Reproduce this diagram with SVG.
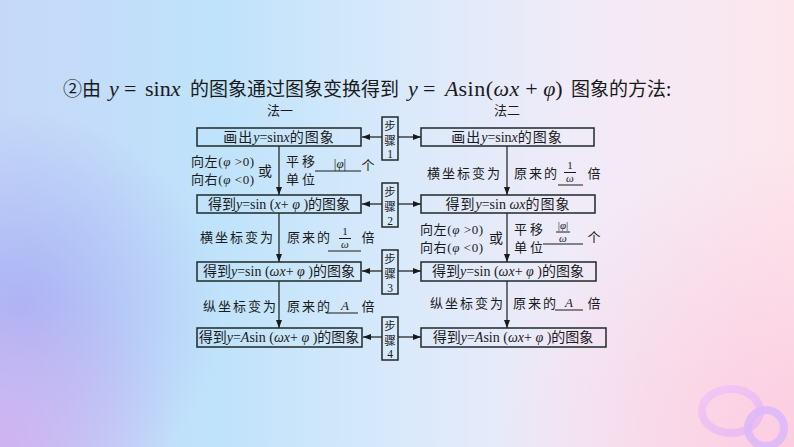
<svg xmlns="http://www.w3.org/2000/svg" width="794" height="447" viewBox="0 0 794 447">
<defs>
<linearGradient id="bg" x1="0" y1="0" x2="1" y2="0">
<stop offset="0" stop-color="#c6d8f8"/>
<stop offset="0.28" stop-color="#bfe3fb"/>
<stop offset="0.5" stop-color="#d9e9fb"/>
<stop offset="0.72" stop-color="#f0ebf8"/>
<stop offset="1" stop-color="#fde6ec"/>
</linearGradient>
<radialGradient id="pl" cx="20" cy="310" r="200" gradientUnits="userSpaceOnUse">
<stop offset="0" stop-color="#a6aef4" stop-opacity="0.9"/>
<stop offset="1" stop-color="#a6aef4" stop-opacity="0"/>
</radialGradient>
<radialGradient id="bl" cx="0" cy="447" r="180" gradientUnits="userSpaceOnUse">
<stop offset="0" stop-color="#d2b0f0" stop-opacity="0.9"/>
<stop offset="1" stop-color="#d2b0f0" stop-opacity="0"/>
</radialGradient>
<radialGradient id="br" cx="794" cy="447" r="300" gradientUnits="userSpaceOnUse">
<stop offset="0" stop-color="#fccbe0" stop-opacity="0.95"/>
<stop offset="1" stop-color="#fccbe0" stop-opacity="0"/>
</radialGradient>
<linearGradient id="ring1" x1="0" y1="0" x2="1" y2="1">
<stop offset="0" stop-color="#f2c4f6"/>
<stop offset="1" stop-color="#e7b6f5"/>
</linearGradient>
<marker id="ah" viewBox="0 0 8 6" refX="8" refY="3" markerWidth="8" markerHeight="6" markerUnits="userSpaceOnUse" orient="auto">
<path d="M0,0 L8,3 L0,6 z" fill="#1a1a1a"/>
</marker>
<style>
text{fill:#1a1a1a;font-family:"Liberation Serif","Noto Sans CJK SC",serif;}
.cn{font-family:"Noto Sans CJK SC",sans-serif;}
.i{font-style:italic;font-family:"Liberation Serif",serif;}
.box{fill:none;stroke:#1e2a2a;stroke-width:1.5;}
.bt{font-size:14px;}
.lb{font-size:13px;}
.sp{letter-spacing:2px;}
.ul{stroke:#1a1a1a;stroke-width:1;}
.ln{stroke:#1a1a1a;stroke-width:1.2;fill:none;}
.st{font-size:11.5px;text-anchor:middle;}
.fr{font-size:11px;text-anchor:middle;}
.ttl{font-size:19px;}
.tm{font-size:22px;}
.mid{text-anchor:middle;}
</style>
</defs>
<rect width="794" height="447" fill="url(#bg)"/>
<rect width="794" height="447" fill="url(#pl)"/>
<rect width="794" height="447" fill="url(#bl)"/>
<rect width="794" height="447" fill="url(#br)"/>
<ellipse cx="731" cy="411" rx="29" ry="22" fill="none" stroke="url(#ring1)" stroke-width="8" opacity="0.85"/>
<circle cx="766" cy="428" r="18" fill="none" stroke="#d9b8f8" stroke-width="8" opacity="0.85"/>

<g id="title">
<text y="96" class="ttl"><tspan x="63" class="cn">②由</tspan><tspan x="109" class="i tm">y</tspan><tspan x="124" class="tm">=</tspan><tspan x="145" class="tm">sin</tspan><tspan class="i tm">x</tspan><tspan x="190" class="cn">的图象通过图象变换得到</tspan><tspan x="408" class="i tm">y</tspan><tspan x="423" class="tm">=</tspan><tspan x="445" class="i tm">A</tspan><tspan class="tm" letter-spacing="0.5">sin(</tspan><tspan class="i tm" letter-spacing="0.5">ωx</tspan><tspan class="tm"> + </tspan><tspan class="i tm">φ</tspan><tspan class="tm">)</tspan><tspan x="571" class="cn">图象的方法:</tspan></text>
</g>
<text x="280" y="115" class="cn mid" font-size="13">法一</text>
<text x="507" y="115" class="cn mid" font-size="13">法二</text>

<g id="connectors">
<line class="ln" x1="279" y1="146" x2="279" y2="195" marker-end="url(#ah)"/>
<line class="ln" x1="279" y1="213" x2="279" y2="262" marker-end="url(#ah)"/>
<line class="ln" x1="279" y1="281" x2="279" y2="328" marker-end="url(#ah)"/>
<line class="ln" x1="507" y1="146" x2="507" y2="195" marker-end="url(#ah)"/>
<line class="ln" x1="507" y1="213" x2="507" y2="262" marker-end="url(#ah)"/>
<line class="ln" x1="507" y1="281" x2="507" y2="328" marker-end="url(#ah)"/>
<line class="ln" x1="382" y1="137" x2="362" y2="137" marker-end="url(#ah)"/>
<line class="ln" x1="398" y1="137" x2="421" y2="137" marker-end="url(#ah)"/>
<line class="ln" x1="382" y1="204" x2="362" y2="204" marker-end="url(#ah)"/>
<line class="ln" x1="398" y1="204" x2="421" y2="204" marker-end="url(#ah)"/>
<line class="ln" x1="382" y1="271" x2="362" y2="271" marker-end="url(#ah)"/>
<line class="ln" x1="398" y1="271" x2="421" y2="271" marker-end="url(#ah)"/>
<line class="ln" x1="382" y1="337" x2="363" y2="337" marker-end="url(#ah)"/>
<line class="ln" x1="398" y1="337" x2="421" y2="337" marker-end="url(#ah)"/>
</g>

<g id="L1"><rect class="box" x="197" y="128" width="164" height="18"/>
<text x="279" y="142" class="bt mid"><tspan class="cn" letter-spacing="1">画出</tspan><tspan class="i">y</tspan>=sin<tspan class="i">x</tspan><tspan class="cn" letter-spacing="1">的图象</tspan></text></g>
<g id="L2"><rect class="box" x="197" y="195" width="164" height="18"/>
<text x="279" y="209" class="bt mid"><tspan class="cn">得到</tspan><tspan class="i">y</tspan>=sin (<tspan class="i">x</tspan>+ <tspan class="i">φ</tspan> )<tspan class="cn">的图象</tspan></text></g>
<g id="L3"><rect class="box" x="197" y="262" width="164" height="19"/>
<text x="279" y="276" class="bt mid"><tspan class="cn">得到</tspan><tspan class="i">y</tspan>=sin (<tspan class="i">ωx</tspan>+ <tspan class="i">φ</tspan> )<tspan class="cn">的图象</tspan></text></g>
<g id="L4"><rect class="box" x="197" y="328" width="165" height="19"/>
<text x="279" y="342" class="bt mid"><tspan class="cn">得到</tspan><tspan class="i">y</tspan>=<tspan class="i">A</tspan>sin (<tspan class="i">ωx</tspan>+ <tspan class="i">φ</tspan> )<tspan class="cn">的图象</tspan></text></g>

<g id="R1"><rect class="box" x="421" y="128" width="173" height="18"/>
<text x="507" y="142" class="bt mid"><tspan class="cn" letter-spacing="1">画出</tspan><tspan class="i">y</tspan>=sin<tspan class="i">x</tspan><tspan class="cn" letter-spacing="1">的图象</tspan></text></g>
<g id="R2"><rect class="box" x="421" y="195" width="174" height="18"/>
<text x="508" y="209" class="bt mid"><tspan class="cn" letter-spacing="1">得到</tspan><tspan class="i">y</tspan>=sin <tspan class="i">ωx</tspan><tspan class="cn" letter-spacing="1">的图象</tspan></text></g>
<g id="R3"><rect class="box" x="421" y="262" width="175" height="19"/>
<text x="508" y="276" class="bt mid"><tspan class="cn">得到</tspan><tspan class="i">y</tspan>=sin (<tspan class="i">ωx</tspan>+ <tspan class="i">φ</tspan> )<tspan class="cn">的图象</tspan></text></g>
<g id="R4"><rect class="box" x="421" y="328" width="185" height="19"/>
<text x="513" y="342" class="bt mid"><tspan class="cn">得到</tspan><tspan class="i">y</tspan>=<tspan class="i">A</tspan>sin (<tspan class="i">ωx</tspan>+ <tspan class="i">φ</tspan> )<tspan class="cn">的图象</tspan></text></g>

<g id="S1"><rect class="box" x="382" y="117" width="16" height="43"/>
<text x="390" y="130" class="st cn">步</text><text x="390" y="145" class="st cn">骤</text><text x="390" y="158" class="st" font-size="13">1</text></g>
<g id="S2"><rect class="box" x="382" y="183" width="16" height="44"/>
<text x="390" y="196" class="st cn">步</text><text x="390" y="211" class="st cn">骤</text><text x="390" y="225" class="st" font-size="13">2</text></g>
<g id="S3"><rect class="box" x="382" y="250" width="16" height="44"/>
<text x="390" y="263" class="st cn">步</text><text x="390" y="278" class="st cn">骤</text><text x="390" y="292" class="st" font-size="13">3</text></g>
<g id="S4"><rect class="box" x="382" y="317" width="16" height="43"/>
<text x="390" y="330" class="st cn">步</text><text x="390" y="345" class="st cn">骤</text><text x="390" y="358" class="st" font-size="13">4</text></g>

<g id="labels-left">
<text x="191" y="166" class="lb" letter-spacing="0.6"><tspan class="cn">向左</tspan>(<tspan class="i">φ</tspan> &gt;0)</text>
<text x="191" y="184" class="lb" letter-spacing="0.6"><tspan class="cn">向右</tspan>(<tspan class="i">φ</tspan> &lt;0)</text>
<text x="265" y="176" class="cn mid" font-size="14">或</text>
<text x="286" y="166" class="cn lb">平 移</text>
<text x="286" y="184" class="cn lb">单 位</text>
<line class="ul" x1="315" y1="171" x2="361" y2="171"/>
<text x="340" y="168" class="lb mid">|<tspan class="i">φ</tspan>|</text>
<text x="368" y="170" class="cn lb mid">个</text>

<text x="200" y="242" class="cn lb sp">横坐标变为</text>
<text x="287" y="242" class="cn lb sp">原来的</text>
<text x="345" y="235" class="fr">1</text>
<line class="ul" x1="339" y1="238.5" x2="351" y2="238.5"/>
<text x="345" y="248" class="fr i">ω</text>
<line class="ul" x1="328" y1="251" x2="361" y2="251"/>
<text x="368" y="242" class="cn lb mid">倍</text>

<text x="203" y="311" class="cn lb sp">纵坐标变为</text>
<text x="287" y="311" class="cn lb sp">原来的</text>
<text x="345" y="310" class="i mid" font-size="13">A</text>
<line class="ul" x1="326" y1="313" x2="358" y2="313"/>
<text x="368" y="311" class="cn lb mid">倍</text>
</g>

<g id="labels-right">
<text x="427" y="178" class="cn lb sp">横坐标变为</text>
<text x="514" y="178" class="cn lb sp">原来的</text>
<text x="570" y="169" class="fr">1</text>
<line class="ul" x1="564" y1="172.5" x2="576" y2="172.5"/>
<text x="570" y="182" class="fr i">ω</text>
<line class="ul" x1="558" y1="185" x2="583" y2="185"/>
<text x="594" y="178" class="cn lb mid">倍</text>

<text x="420" y="234" class="lb" letter-spacing="0.6"><tspan class="cn">向左</tspan>(<tspan class="i">φ</tspan> &gt;0)</text>
<text x="420" y="252" class="lb" letter-spacing="0.6"><tspan class="cn">向右</tspan>(<tspan class="i">φ</tspan> &lt;0)</text>
<text x="496" y="243" class="cn mid" font-size="14">或</text>
<text x="514" y="234" class="cn lb">平 移</text>
<text x="514" y="252" class="cn lb">单 位</text>
<text x="563" y="229" class="fr">|<tspan class="i">φ</tspan>|</text>
<line class="ul" x1="556" y1="232" x2="570" y2="232"/>
<text x="563" y="242" class="fr i">ω</text>
<line class="ul" x1="543" y1="244" x2="583" y2="244"/>
<text x="594" y="242" class="cn lb mid">个</text>

<text x="430" y="308" class="cn lb sp">纵坐标变为</text>
<text x="513" y="308" class="cn lb sp">原来的</text>
<text x="569" y="307" class="i mid" font-size="13">A</text>
<line class="ul" x1="555" y1="310" x2="583" y2="310"/>
<text x="594" y="308" class="cn lb mid">倍</text>
</g>
</svg>
